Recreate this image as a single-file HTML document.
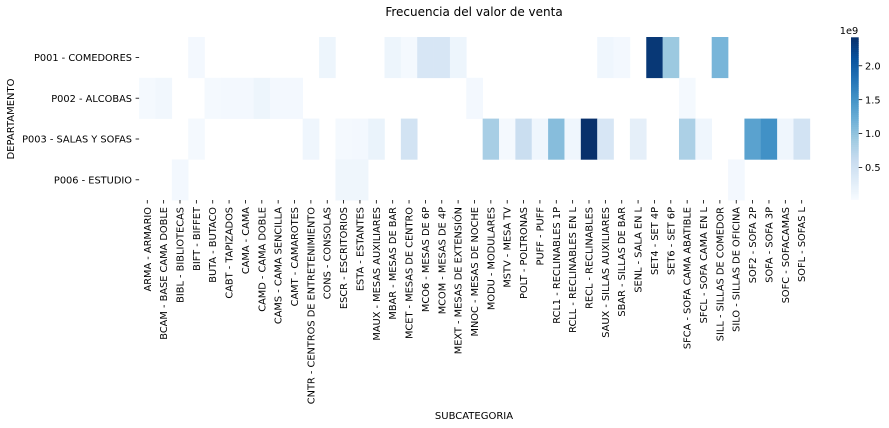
<!DOCTYPE html>
<html><head><meta charset="utf-8"><style>
body{margin:0;background:#fff}
svg{display:block;font-family:"DejaVu Sans","Liberation Sans",sans-serif}
</style></head><body>
<svg id="chart" width="889" height="428" viewBox="0 0 889 428">
<text x="474" y="16" text-anchor="middle" font-size="12">Frecuencia del valor de venta</text>
<g id="cells"></g><g id="xaxis"></g><g id="yaxis"></g><g id="cbar"></g>
<text transform="translate(14,119) rotate(-90)" text-anchor="middle" font-size="10">DEPARTAMENTO</text>
<text x="474" y="419" text-anchor="middle" font-size="10">SUBCATEGORIA</text>
</svg>
<script>
const categories=["ARMA - ARMARIO","BCAM - BASE CAMA DOBLE","BIBL - BIBLIOTECAS","BIFT - BIFFET","BUTA - BUTACO","CABT - TAPIZADOS","CAMA - CAMA","CAMD - CAMA DOBLE","CAMS - CAMA SENCILLA","CAMT - CAMAROTES","CNTR - CENTROS DE ENTRETENIMIENTO","CONS - CONSOLAS","ESCR - ESCRITORIOS","ESTA - ESTANTES","MAUX - MESAS AUXILIARES","MBAR - MESAS DE BAR","MCET - MESAS DE CENTRO","MCO6 - MESAS DE 6P","MCOM - MESAS DE 4P","MEXT - MESAS DE EXTENSIÓN","MNOC - MESAS DE NOCHE","MODU - MODULARES","MSTV - MESA TV","POLT - POLTRONAS","PUFF - PUFF","RCL1 - RECLINABLES 1P","RCLL - RECLINABLES EN L","RECL - RECLINABLES","SAUX - SILLAS AUXILIARES","SBAR - SILLAS DE BAR","SENL - SALA EN L","SET4 - SET 4P","SET6 - SET 6P","SFCA - SOFA CAMA ABATIBLE","SFCL - SOFA CAMA EN L","SILL - SILLAS DE COMEDOR","SILO - SILLAS DE OFICINA","SOF2 - SOFA 2P","SOFA - SOFA 3P","SOFC - SOFACAMAS","SOFL - SOFAS L"];
const rows=["P001 - COMEDORES","P002 - ALCOBAS","P003 - SALAS Y SOFAS","P006 - ESTUDIO"];
const _=null;
const rowComedores=[_,_,_,0.08,_,_,_,_,_,_,_,0.15,_,_,_,0.15,0.06,0.42,0.42,0.15,_,_,_,_,_,_,_,_,0.12,0.08,_,2.35,0.94,_,_,1.15,_,_,_,_,_];
const rowAlcobas=[0.07,0.1,_,_,0.06,0.08,0.08,0.15,0.08,0.08,_,_,_,_,_,_,_,_,_,_,0.08,_,_,_,_,_,_,_,_,_,_,_,_,0.07,_,_,_,_,_,_,_];
const rowSalas=[_,_,_,0.07,_,_,_,_,_,_,0.12,_,0.07,0.08,0.18,_,0.48,_,_,_,_,0.85,0.06,0.58,0.12,1.06,0.12,2.42,0.42,_,0.25,_,_,0.82,0.12,_,_,1.35,1.53,0.12,0.48];
const rowEstudio=[_,_,0.08,_,_,_,_,_,_,_,_,_,0.13,0.13,_,_,_,_,_,_,_,_,_,_,_,_,_,_,_,_,_,_,_,_,_,_,0.08,_,_,_,_];
const cbarTicks=[0.5,1.0,1.5,2.0];
const values=[rowComedores,rowAlcobas,rowSalas,rowEstudio];
const vmin=0.03,vmax=2.42;
const X0=139.1,CW=16.36,Y0=37,RH=40.8;
const xs=i=>X0+i*CW, ys=j=>Y0+j*RH;
const stops=["#f7fbff","#deebf7","#c6dbef","#9ecae1","#6baed6","#4292c6","#2171b5","#08519c","#08306b"].map(h=>[parseInt(h.slice(1,3),16),parseInt(h.slice(3,5),16),parseInt(h.slice(5,7),16)]);
function color(v){let t=Math.max(0,Math.min(1,(v-vmin)/(vmax-vmin)))*8;let i=Math.min(7,Math.floor(t)),f=t-i;const a=stops[i],b=stops[i+1];return `rgb(${a.map((c,k)=>Math.round(c+(b[k]-c)*f)).join(",")})`;}
const NS="http://www.w3.org/2000/svg";
function mk(tag,attrs,parent,txt){const e=document.createElementNS(NS,tag);for(const k in attrs)e.setAttribute(k,attrs[k]);if(txt!==undefined)e.textContent=txt;parent.appendChild(e);return e;}
const gc=document.getElementById('cells');
values.forEach((row,j)=>row.forEach((v,i)=>{if(v===null)return;
const r=mk('rect',{x:xs(i),y:ys(j),width:CW+0.3,height:RH+0.3,fill:color(v)},gc);

}));
const gx=document.getElementById('xaxis');
categories.forEach((c,i)=>{const x=xs(i)+CW/2;
const l=mk('line',{x1:x,x2:x,y1:200,y2:203.5,stroke:'#000','stroke-width':0.8},gx);


const t=mk('text',{transform:`translate(${x+3.5},207) rotate(-90)`,'text-anchor':'end','font-size':9.8},gx,c);

});
const gy=document.getElementById('yaxis');
rows.forEach((r,j)=>{const y=ys(j)+RH/2;
const l=mk('line',{x1:135.6,x2:139.1,y1:y,y2:y,stroke:'#000','stroke-width':0.8},gy);


const t=mk('text',{x:132,y:y+3.6,'text-anchor':'end','font-size':9.8},gy,r);

});
const gb=document.getElementById('cbar');
const CB0=37.3,CB1=199.3,cv=v=>CB1-(v-vmin)/(vmax-vmin)*(CB1-CB0);
for(let k=0;k<80;k++){const v0=vmin+(vmax-vmin)*k/80,v1=vmin+(vmax-vmin)*(k+1)/80;
const r=mk('rect',{x:851,y:cv(v1),width:7.7,height:cv(v0)-cv(v1)+0.5,fill:color((v0+v1)/2)},gb);

}
cbarTicks.forEach(v=>{const y=cv(v);
const l=mk('line',{x1:858.7,x2:862.2,y1:y,y2:y,stroke:'#000','stroke-width':0.8},gb);


const t=mk('text',{x:865,y:y+3.6,'font-size':9.8},gb,v.toFixed(1));

});
const ex=mk('text',{x:849,y:34,'font-size':9.8,'text-anchor':'middle'},gb,'1e9');


</script>
</body></html>
